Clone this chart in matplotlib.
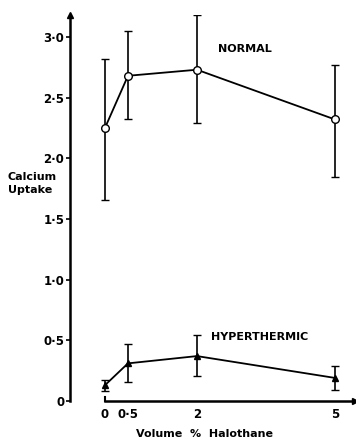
import matplotlib
matplotlib.use("Agg")
import matplotlib.pyplot as plt

plt.rcParams['font.family'] = ['DejaVu Sans']
plt.rcParams['font.weight'] = 'bold'

# data
halothane = [0, 0.5, 2, 5]
normal = [2.25, 2.68, 2.73, 2.32]
normal_lo = [1.66, 2.32, 2.29, 1.85]
normal_hi = [2.82, 3.05, 3.18, 2.77]
hyper = [0.13, 0.31, 0.37, 0.19]
hyper_lo = [0.08, 0.16, 0.21, 0.09]
hyper_hi = [0.17, 0.47, 0.54, 0.29]

xticks = [0, 0.5, 2, 5]
xticklabels = ["0", "0·5", "2", "5"]
yticks = [0, 0.5, 1.0, 1.5, 2.0, 2.5, 3.0]
yticklabels = ["0", "0·5", "1·0", "1·5", "2·0", "2·5", "3·0"]

fig = plt.figure(figsize=(3.56, 4.42), dpi=100)
ax = fig.add_axes([0.1966, 0.0928, 0.80, 0.873])

#error bars
def bars(y, lo, hi, marker, ms, face):
    err = [[a - b for a, b in zip(y, lo)], [b - a for a, b in zip(y, hi)]]
    ax.errorbar(halothane, y, yerr=err, color='black', lw=1.3, elinewidth=1.2,
                capsize=3, capthick=1.2, marker=marker, ms=ms,
                mfc=face, mec='black', mew=1.0, zorder=3)

bars(normal, normal_lo, normal_hi, 'o', 5.5, 'white')
bars(hyper, hyper_lo, hyper_hi, '^', 4, 'black')

ax.set_xlim(-0.76, 5.43)
ax.set_ylim(0, 3.18)

ax.spines['top'].set_visible(False)
ax.spines['right'].set_visible(False)
ax.spines['left'].set_linewidth(1.8)
ax.spines['bottom'].set_linewidth(1.8)
ax.spines['bottom'].set_bounds(0, 5.43)

ax.set_xticks(xticks)
ax.set_xticklabels(xticklabels, fontsize=8.5, fontweight='bold')
ax.set_yticks(yticks)
ax.set_yticklabels(yticklabels, fontsize=8.5, fontweight='bold')
ax.tick_params(axis='x', length=0, pad=5)
ax.tick_params(axis='y', length=3, width=1.2, pad=1)

#arrows at the ends of axes
ax.plot(-0.76, 3.18, marker='^', color='black', ms=4, clip_on=False)
ax.plot(5.43, 0, marker='>', color='black', ms=4, clip_on=False)
ax.plot([0, 0], [0, 0.03], color='black', lw=1.5, clip_on=False)

ax.text(2.45, 2.9, "NORMAL", fontsize=8, fontweight='bold', va='center')
ax.text(2.3, 0.53, "HYPERTHERMIC", fontsize=8, fontweight='bold', va='center')
fig.text(0.022, 0.585, "Calcium\nUptake", fontsize=8, fontweight='bold', va='center', ha='left', linespacing=1.4)
fig.text(0.575, 0.018, "Volume  %  Halothane", fontsize=8, fontweight='bold', ha='center', va='center')

fig.savefig("out.png", dpi=100)
